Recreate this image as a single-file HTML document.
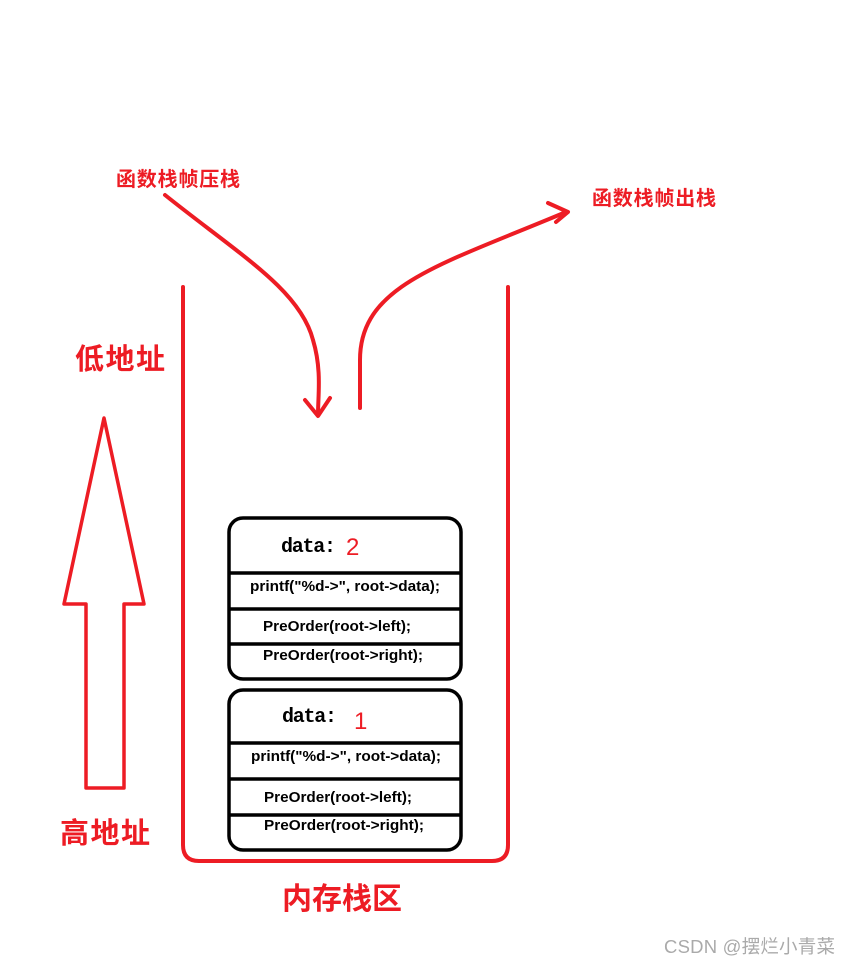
<!DOCTYPE html>
<html><head><meta charset="utf-8"><style>
html,body{margin:0;padding:0;background:#fff;width:850px;height:966px;overflow:hidden}
svg{display:block}
.cn{font-family:"Liberation Sans","Noto Sans CJK SC",sans-serif;font-weight:bold;fill:#ed1c24}
.code{font-family:"Liberation Sans","Noto Sans CJK SC",sans-serif;font-weight:bold;font-size:14.5px;fill:#000}
.mono{font-family:"Liberation Mono","DejaVu Sans Mono",monospace;font-weight:bold;font-size:20px;fill:#000}
</style></head><body>
<svg width="850" height="966" viewBox="0 0 850 966" xmlns="http://www.w3.org/2000/svg">
<g fill="none" stroke="#ed1c24" stroke-width="4" stroke-linecap="round" stroke-linejoin="round">
<path d="M183 287 V845 Q183 861 199 861 H492 Q508 861 508 845 V287"/>
<path d="M165 195 C240 255 300 290 313 340 C322 370 318 395 318 415"/>
<path d="M305 400 L318 416 L330 398"/>
<path d="M360 408 V360 C360 285 440 265 566 212"/>
<path d="M548 203 L568 212 L556 222"/>
<path d="M104 418 L64 604 H86 V788 H124 V604 H144 Z" stroke-width="3.5"/>
</g>
<g fill="none" stroke="#000" stroke-width="3.5">
<rect x="229" y="518" width="232" height="161" rx="14"/>
<line x1="229" y1="573" x2="461" y2="573"/>
<line x1="229" y1="609" x2="461" y2="609"/>
<line x1="229" y1="644" x2="461" y2="644"/>
<rect x="229" y="690" width="232" height="160" rx="14"/>
<line x1="229" y1="743" x2="461" y2="743"/>
<line x1="229" y1="779" x2="461" y2="779"/>
<line x1="229" y1="815" x2="461" y2="815"/>
</g>
<text class="mono" x="281" y="552" textLength="55">data:</text>
<text class="cn" x="346" y="555" style="font-weight:normal;font-size:24px">2</text>
<text class="code" x="250" y="591" textLength="190" lengthAdjust="spacingAndGlyphs">printf("%d-&gt;", root-&gt;data);</text>
<text class="code" x="263" y="631" textLength="148" lengthAdjust="spacingAndGlyphs">PreOrder(root-&gt;left);</text>
<text class="code" x="263" y="660" textLength="160" lengthAdjust="spacingAndGlyphs">PreOrder(root-&gt;right);</text>
<text class="mono" x="282" y="722" textLength="55">data:</text>
<text class="cn" x="354" y="729" style="font-weight:normal;font-size:24px">1</text>
<text class="code" x="251" y="761" textLength="190" lengthAdjust="spacingAndGlyphs">printf("%d-&gt;", root-&gt;data);</text>
<text class="code" x="264" y="802" textLength="148" lengthAdjust="spacingAndGlyphs">PreOrder(root-&gt;left);</text>
<text class="code" x="264" y="830" textLength="160" lengthAdjust="spacingAndGlyphs">PreOrder(root-&gt;right);</text>
<text class="cn" x="116" y="186" font-size="20" textLength="124">函数栈帧压栈</text>
<text class="cn" x="592" y="205" font-size="20" textLength="124">函数栈帧出栈</text>
<text class="cn" x="75" y="369" font-size="29" textLength="90">低地址</text>
<text class="cn" x="60" y="843" font-size="29" textLength="90">高地址</text>
<text class="cn" x="282" y="909" font-size="30" textLength="120">内存栈区</text>
<text x="664" y="953" font-family="Liberation Sans,Noto Sans CJK SC,sans-serif" font-size="18.5" fill="#aaa" textLength="171">CSDN @摆烂小青菜</text>
</svg>
</body></html>
